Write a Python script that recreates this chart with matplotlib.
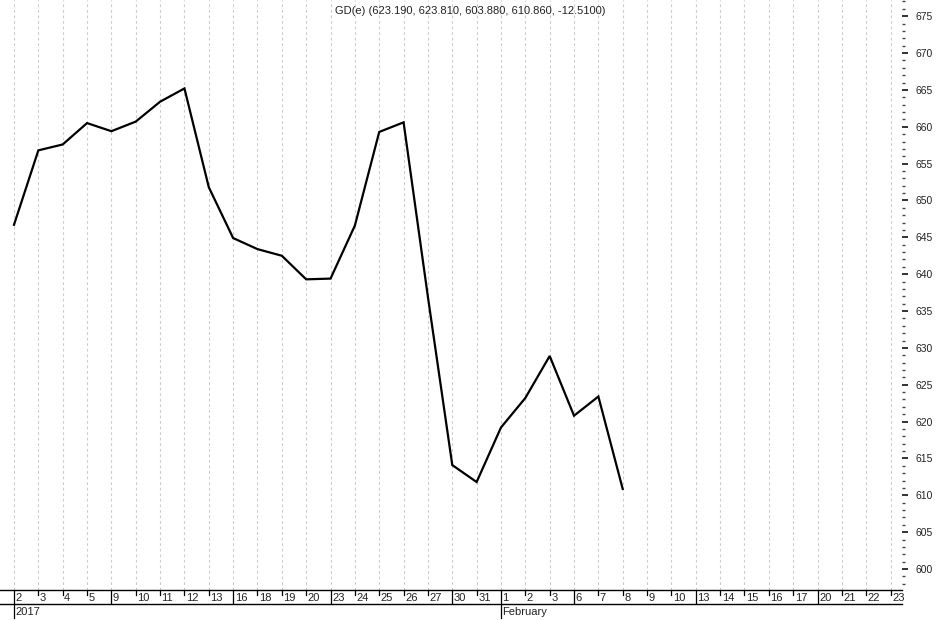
import matplotlib
matplotlib.use("Agg")
import matplotlib.pyplot as plt
from matplotlib.ticker import MultipleLocator, FixedLocator
import matplotlib.transforms as mtrans

plt.rcParams['font.family'] = ['Liberation Sans', 'DejaVu Sans']

# ---------------- data ----------------
day_labels = ["2", "3", "4", "5", "9", "10", "11", "12", "13", "16", "18", "19", "20",
              "23", "24", "25", "26", "27", "30", "31",
              "1", "2", "3", "6", "7", "8", "9", "10", "13", "14", "15", "16", "17",
              "20", "21", "22", "23"]
week_start_idx = [0, 4, 9, 13, 18, 20, 23, 28, 33]
month_labels = {0: "2017", 20: "February"}
closes = [646.7, 656.8, 657.6, 660.5, 659.4, 660.7, 663.4, 665.2, 651.8, 644.9,
          643.4, 642.5, 639.3, 639.4, 646.6, 659.3, 660.6, 636.9, 614.1, 611.8,
          619.2, 623.2, 628.9, 620.8, 623.4, 610.86]
title_text = "GD(e) (623.190, 623.810, 603.880, 610.860, -12.5100)"
y_major = list(range(600, 680, 5))

# ---------------- layout ----------------
W, H = 936, 620
fig = plt.figure(figsize=(W / 100, H / 100), dpi=100)
xlim = (-0.575, 36.47)
right_px = 902

ax = fig.add_axes([0, (H - 590) / H, right_px / W, 590 / H])
ax.set_xlim(*xlim)
ax.set_ylim(597.15, 677.2)

n = len(day_labels)
idx = list(range(n))
ax.vlines(idx, 597.15, 677.2, colors="#cccccc", linestyles=(0, (2.5, 2.5)), lw=0.8, zorder=1)
ax.plot(list(range(len(closes))), closes, color="black", lw=1.6, zorder=3,
        solid_joinstyle="miter")

for s in ax.spines.values():
    s.set_visible(False)
ax.set_xticks([])
ax.yaxis.tick_right()
ax.yaxis.set_major_locator(FixedLocator(y_major))
ax.yaxis.set_minor_locator(MultipleLocator(1))
ax.tick_params(axis="y", which="major", length=4.5, width=1.3, pad=5,
               labelsize=7.5, colors="#222222")
ax.tick_params(axis="y", which="minor", length=2, width=1, colors="#444444")

# ---------------- date strip ----------------
sx = fig.add_axes([0, (H - 604) / H, right_px / W, 14 / H])
sx.set_xlim(*xlim)
sx.set_ylim(0, 1)
sx.set_xticks([])
sx.set_yticks([])
sx.patch.set_alpha(0)
for k in ("left", "right"):
    sx.spines[k].set_visible(False)
for k in ("top", "bottom"):
    sx.spines[k].set_linewidth(1.0)
off = mtrans.offset_copy(sx.transData, fig=fig, x=1.5, y=0, units="dots")
for i, lab in enumerate(day_labels):
    if i in week_start_idx:
        sx.plot([i, i], [0, 1], color="black", lw=0.9)
    else:
        sx.plot([i, i], [0.65, 1], color="black", lw=0.9)
    sx.text(i, 0.42, lab, transform=off, ha="left", va="center", fontsize=8,
            color="#222222")

mx = fig.add_axes([0, 0, right_px / W, 16 / H])
mx.set_xlim(*xlim)
mx.set_ylim(0, 1)
mx.axis("off")
off2 = mtrans.offset_copy(mx.transData, fig=fig, x=1.5, y=0, units="dots")
for i, lab in month_labels.items():
    mx.plot([i, i], [0.1, 1], color="black", lw=0.9)
    mx.text(i, 0.5, lab, transform=off2, ha="left", va="center", fontsize=8,
            color="#222222")

fig.text(470 / W, 1 - 11 / H, title_text, ha="center", va="center", fontsize=8,
         color="#222222")

fig.savefig("out.png", dpi=100)
